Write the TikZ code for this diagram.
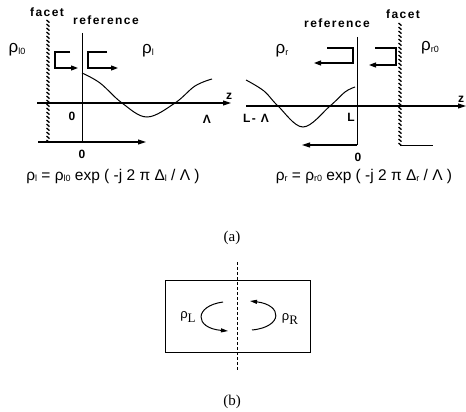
\documentclass[tikz,border=0pt]{standalone}
\usepackage{fontspec}
\setmainfont{Liberation Serif}
\newfontfamily\hv{Liberation Sans}
\newfontfamily\lblfam[LetterSpace=12]{Liberation Sans}
\usetikzlibrary{arrows.meta}
\newcommand\sbl[1]{\raisebox{-0.1em}{\small #1}}
\begin{document}
\begin{tikzpicture}[x=1pt,y=-1pt,
  lbl/.style={inner sep=0pt,font=\lblfam\bfseries\fontsize{12}{13}\selectfont},
  rho/.style={inner sep=0pt,font=\hv\fontsize{17}{18}\selectfont},
  eqn/.style={inner sep=0pt,font=\hv\fontsize{15.5}{17}\selectfont},
  captxt/.style={inner sep=0pt,font=\fontsize{15}{17}\selectfont},
  axis/.style={line width=1.1pt,-{Triangle[length=8pt,width=5pt]}},
  thinln/.style={line width=1pt},
  brk/.style={line width=1.1pt,-{Triangle[length=7pt,width=5pt]}},
  wave/.style={line width=1pt}]
\useasboundingbox (0,0) rectangle (466,412);
% ---------- left panel ----------
\node[lbl] (facetL) at (47,12) {facet};
\node[lbl] (refL) at (106,20) {reference};
\node[rho] (rl0) at (17,50) {ρ\sbl{l0}};
\node[rho] (rl) at (148,51) {ρ\sbl{l}};
\foreach \y in {20,24,...,140} \draw[line width=1.3pt] (46.5,\y) -- (49.5,\y+2.6);
\coordinate (refLtop) at (82,33);
\coordinate (refLbot) at (82,142);
\draw[thinln] (refLtop) -- (refLbot);
\coordinate (axLs) at (37,103);
\coordinate (axLe) at (231,103);
\draw[axis] (axLs) -- (axLe);
\node[lbl] (zL) at (229,96) {z};
\node[lbl] (lamL) at (207,119) {Λ};
\node[lbl] (zeroL) at (72,116) {0};
\coordinate (botLs) at (38,142);
\coordinate (botLe) at (146,142);
\draw[axis] (botLs) -- (botLe);
\node[lbl] (zeroLb) at (82,154) {0};
\draw[brk] (70,52) -- (55,52) -- (55,68) -- (78,68);
\draw[brk] (107,52) -- (88,52) -- (88,68) -- (118,68);
\draw[wave] plot[smooth,tension=0.6] coordinates {(82,73) (100,83) (122,103) (147,117) (175,103) (195,86) (212,79)};
\node[eqn] (eqL) at (113,176) {ρ\sbl{l} = ρ\sbl{l0} exp ( -j 2 π Δ\sbl{l} / Λ )};
% ---------- right panel ----------
\node[lbl] (refR) at (337,23) {reference};
\node[lbl] (facetR) at (403,14) {facet};
\node[rho] (rr) at (282,51) {ρ\sbl{r}};
\node[rho] (rr0) at (430,48) {ρ\sbl{r0}};
\foreach \y in {23,27,...,143} \draw[line width=1.3pt] (398.5,\y) -- (401.5,\y+2.6);
\coordinate (refRtop) at (357,37);
\coordinate (refRbot) at (357,145);
\draw[thinln] (refRtop) -- (refRbot);
\coordinate (axRs) at (246,106);
\coordinate (axRe) at (466,106);
\draw[axis] (axRs) -- (axRe);
\node[lbl] (zR) at (461,99) {z};
\node[lbl] (lamR) at (256,118) {L- Λ};
\node[lbl] (LR) at (351,117) {L};
\coordinate (botRs) at (357,145);
\coordinate (botRe) at (302,145);
\draw[axis] (botRs) -- (botRe);
\draw[thinln] (400,145) -- (433,145);
\node[lbl] (zeroRb) at (358,157) {0};
\draw[brk] (327,48) -- (353,48) -- (353,63) -- (314,63);
\draw[brk] (375,48) -- (396,48) -- (396,65) -- (369,65);
\draw[wave] plot[smooth,tension=0.6] coordinates {(246,80) (264,91) (278,106) (303,127) (330,106) (345,92) (355,87)};
\node[eqn] (eqR) at (364,176) {ρ\sbl{r} = ρ\sbl{r0} exp ( -j 2 π Δ\sbl{r} / Λ )};
\node[captxt] (capa) at (232,238) {(a)};
% ---------- (b) ----------
\node[draw,thinln,minimum width=145pt,minimum height=72pt,inner sep=0pt] (box) at (237.5,316) {};
\coordinate (dtop) at (237,262);
\coordinate (dbot) at (237,370);
\draw[thinln,dash pattern=on 3pt off 2pt] (dtop) -- (dbot);
\draw[line width=1pt,-{Triangle[length=7pt,width=4pt]}] (223,302) .. controls (194,306) and (194,328) .. (228,331);
\draw[line width=1pt,-{Triangle[length=7pt,width=4pt]}] (252,330) .. controls (283,327) and (283,305) .. (250,301);
\node[inner sep=0pt,font=\fontsize{13}{14}\selectfont] (rhoL) at (188,317) {{\hv ρ}\raisebox{-0.35em}{L}};
\node[inner sep=0pt,font=\fontsize{13}{14}\selectfont] (rhoR) at (290,319) {{\hv ρ}\raisebox{-0.35em}{R}};
\node[captxt] (capb) at (232,402) {(b)};
\end{tikzpicture}
\end{document}
